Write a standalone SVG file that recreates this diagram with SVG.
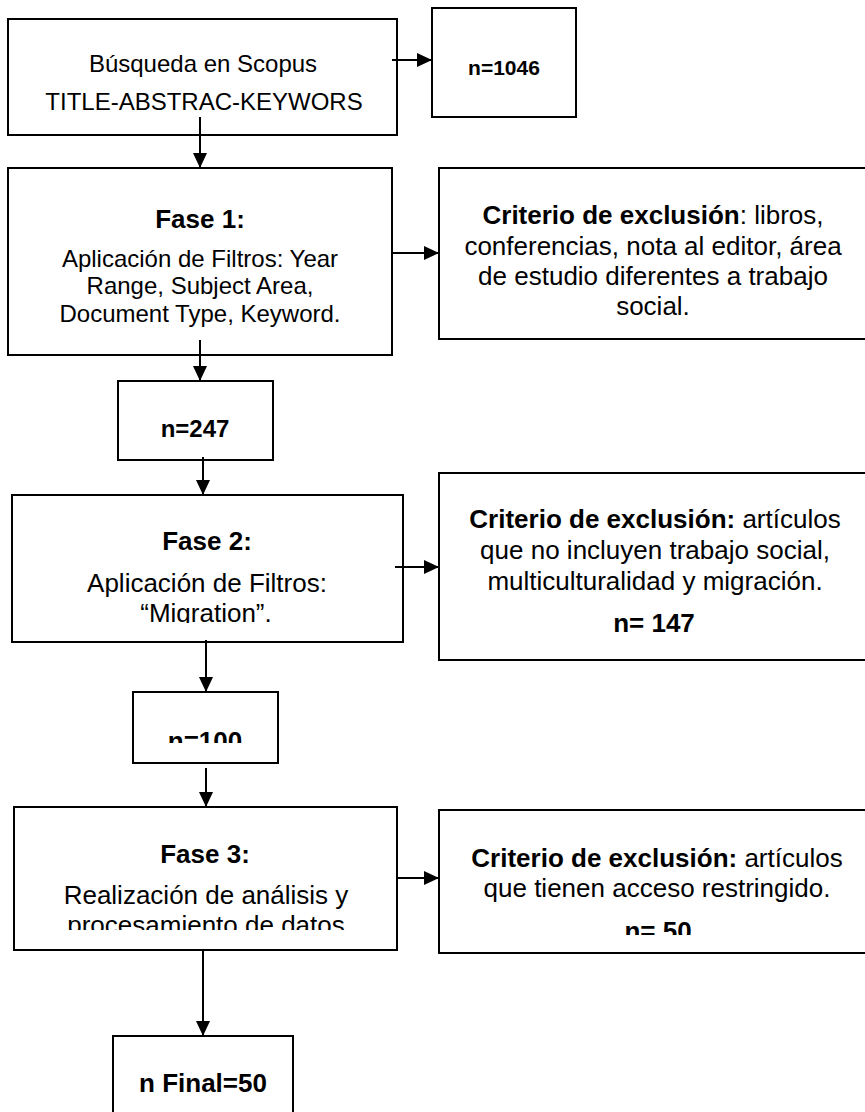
<svg xmlns="http://www.w3.org/2000/svg" width="865" height="1112" viewBox="0 0 865 1112">
<style>
  .box { fill: #fff; stroke: #000; stroke-width: 2; }
  .t { font-family: "Liberation Sans", Arial, sans-serif; fill: #000; text-anchor: middle; }
  .b { font-weight: bold; }
  .conn { stroke: #000; stroke-width: 2; fill: none; marker-end: url(#arr); }
</style>
<defs>
  <marker id="arr" markerUnits="userSpaceOnUse" markerWidth="16" markerHeight="16" refX="15" refY="7" orient="auto">
    <path d="M0,0 L15,7 L0,14 z" fill="#000"/>
  </marker>
  <clipPath id="c-migr"><rect x="0" y="500" width="430" height="123"/></clipPath>
  <clipPath id="c-100"><rect x="0" y="700" width="430" height="43"/></clipPath>
  <clipPath id="c-proc"><rect x="0" y="820" width="430" height="110"/></clipPath>
  <clipPath id="c-50"><rect x="440" y="815" width="430" height="120"/></clipPath>
</defs>
<rect width="865" height="1112" fill="#fff"/>

<g id="busqueda">
  <rect class="box" x="8" y="19" width="389" height="116"/>
  <text class="t" x="203" y="72" font-size="24">Búsqueda en Scopus</text>
  <text class="t" x="204" y="110" font-size="24">TITLE-ABSTRAC-KEYWORS</text>
</g>

<g id="n1046">
  <rect class="box" x="432" y="8" width="144" height="109"/>
  <text class="t b" x="504" y="75" font-size="21">n=1046</text>
</g>

<g id="fase1">
  <rect class="box" x="8" y="168" width="384" height="187"/>
  <text class="t b" x="200" y="228" font-size="26">Fase 1:</text>
  <text class="t" x="200" y="267" font-size="24">Aplicación de Filtros: Year</text>
  <text class="t" x="200" y="294" font-size="24">Range, Subject Area,</text>
  <text class="t" x="200" y="322" font-size="24">Document Type, Keyword.</text>
</g>

<g id="excl1">
  <rect class="box" x="439" y="168" width="440" height="171"/>
  <text class="t" x="653" y="224" font-size="26"><tspan font-weight="bold">Criterio de exclusión</tspan>: libros,</text>
  <text class="t" x="653" y="255" font-size="26">conferencias, nota al editor, área</text>
  <text class="t" x="653" y="285" font-size="26">de estudio diferentes a trabajo</text>
  <text class="t" x="653" y="315" font-size="26">social.</text>
</g>

<g id="n247">
  <rect class="box" x="118" y="381" width="155" height="79"/>
  <text class="t b" x="195" y="437" font-size="24">n=247</text>
</g>

<g id="fase2">
  <rect class="box" x="12" y="495" width="391" height="147"/>
  <text class="t b" x="207" y="550" font-size="26">Fase 2:</text>
  <text class="t" x="207" y="592" font-size="26">Aplicación de Filtros:</text>
  <text class="t" x="206" y="622" font-size="26" clip-path="url(#c-migr)">“Migration”.</text>
</g>

<g id="excl2">
  <rect class="box" x="439" y="473" width="440" height="187"/>
  <text class="t" x="655" y="528" font-size="26"><tspan font-weight="bold">Criterio de exclusión:</tspan> artículos</text>
  <text class="t" x="655" y="559" font-size="26">que no incluyen trabajo social,</text>
  <text class="t" x="655" y="590" font-size="26">multiculturalidad y migración.</text>
  <text class="t b" x="654" y="632" font-size="26">n= 147</text>
</g>

<g id="n100">
  <rect class="box" x="133" y="692" width="145" height="71"/>
  <text class="t b" x="205" y="750" font-size="26" clip-path="url(#c-100)">n=100</text>
</g>

<g id="fase3">
  <rect class="box" x="14" y="807" width="383" height="143"/>
  <text class="t b" x="205" y="863" font-size="26">Fase 3:</text>
  <text class="t" x="206" y="904" font-size="26">Realización de análisis y</text>
  <text class="t" x="206" y="934" font-size="26" clip-path="url(#c-proc)">procesamiento de datos</text>
</g>

<g id="excl3">
  <rect class="box" x="439" y="810" width="440" height="143"/>
  <text class="t" x="657" y="867" font-size="26"><tspan font-weight="bold">Criterio de exclusión:</tspan> artículos</text>
  <text class="t" x="657" y="897" font-size="26">que tienen acceso restringido.</text>
  <text class="t b" x="658" y="940" font-size="26" clip-path="url(#c-50)">n= 50</text>
</g>

<g id="nfinal">
  <rect class="box" x="113" y="1036" width="180" height="90"/>
  <text class="t b" x="203" y="1092" font-size="26">n Final=50</text>
</g>

<g id="connectors">
  <line class="conn" x1="392" y1="60" x2="432" y2="60"/>
  <line class="conn" x1="200" y1="117" x2="200" y2="168"/>
  <line class="conn" x1="393" y1="253" x2="439" y2="253"/>
  <line class="conn" x1="200" y1="340" x2="200" y2="381"/>
  <line class="conn" x1="203" y1="457" x2="203" y2="495"/>
  <line class="conn" x1="395" y1="567" x2="439" y2="567"/>
  <line class="conn" x1="206" y1="640" x2="206" y2="692"/>
  <line class="conn" x1="206" y1="768" x2="206" y2="807"/>
  <line class="conn" x1="397" y1="878" x2="439" y2="878"/>
  <line class="conn" x1="203" y1="950" x2="203" y2="1036"/>
</g>
</svg>
